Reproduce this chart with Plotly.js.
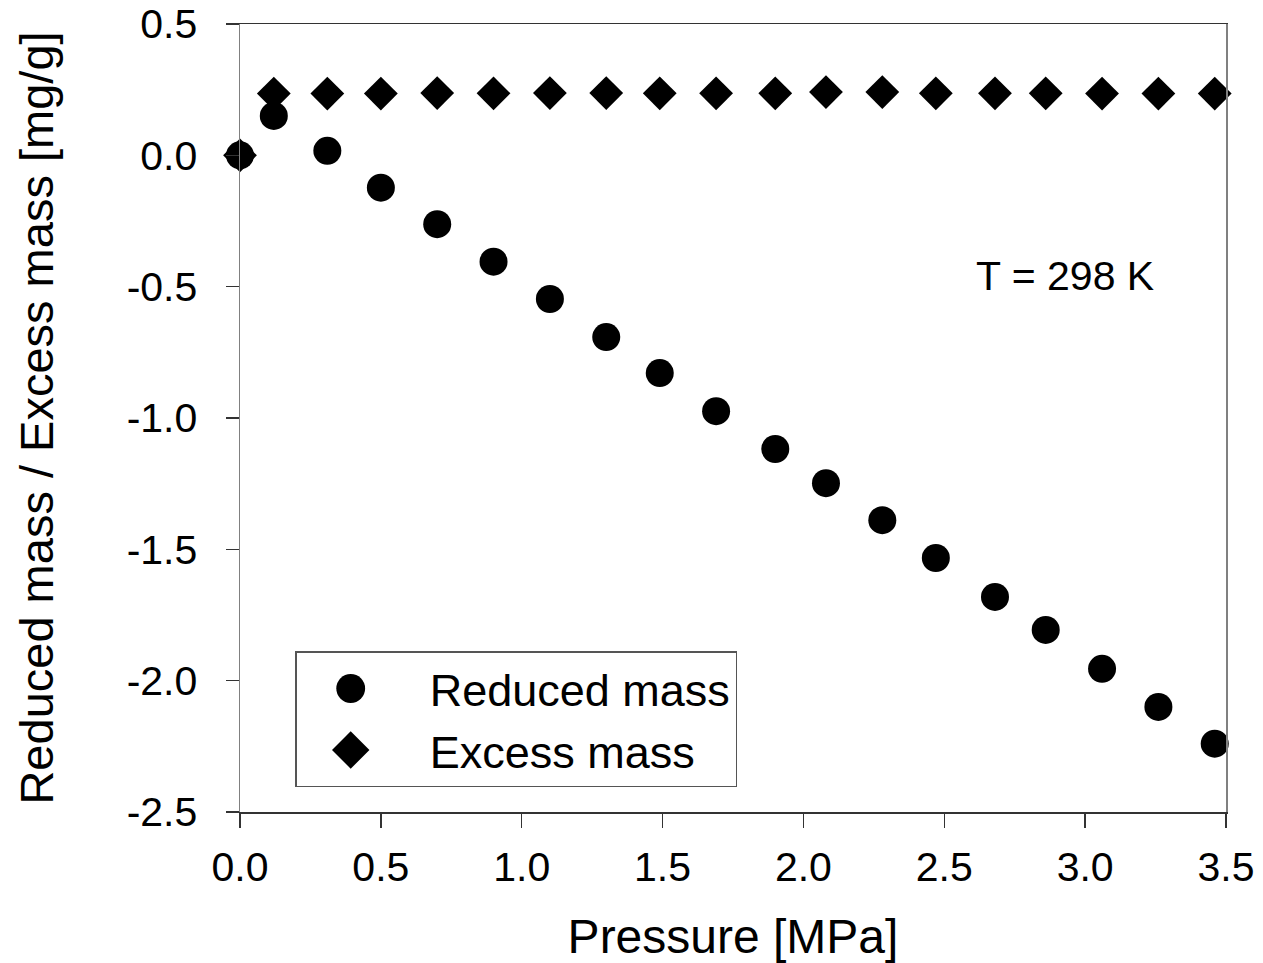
<!DOCTYPE html>
<html>
<head>
<meta charset="utf-8">
<script src="https://cdn.plot.ly/plotly-3.0.1.min.js"></script>
<style>html,body{margin:0;padding:0;background:#fff;}#chart{width:1263px;height:963px;}</style>
</head>
<body>
<div id="chart"></div>
<script>
const pressure = [0, 0.12, 0.31, 0.50, 0.70, 0.90, 1.10, 1.30, 1.49, 1.69, 1.90, 2.08, 2.28, 2.47, 2.68, 2.86, 3.06, 3.26, 3.46];
const reducedMass = [0, 0.150, 0.017, -0.123, -0.262, -0.405, -0.547, -0.692, -0.829, -0.974, -1.118, -1.248, -1.389, -1.533, -1.681, -1.807, -1.955, -2.100, -2.240];
const excessMass = [0, 0.235, 0.235, 0.235, 0.237, 0.236, 0.237, 0.237, 0.236, 0.236, 0.236, 0.241, 0.241, 0.236, 0.236, 0.236, 0.235, 0.235, 0.235];
const seriesNames = ['Reduced mass', 'Excess mass'];
const xTickVals = [0, 0.5, 1.0, 1.5, 2.0, 2.5, 3.0, 3.5];
const xTickText = ['0.0', '0.5', '1.0', '1.5', '2.0', '2.5', '3.0', '3.5'];
const yTickVals = [0.5, 0.0, -0.5, -1.0, -1.5, -2.0, -2.5];
const yTickText = ['0.5', '0.0', '-0.5', '-1.0', '-1.5', '-2.0', '-2.5'];
const annotationText = 'T = 298 K';

const FONT = 'Liberation Sans, Arial, sans-serif';
const NB = '\u00A0\u00A0';

const traces = [
  {
    x: pressure, y: reducedMass, name: NB + seriesNames[0],
    type: 'scatter', mode: 'markers', cliponaxis: false,
    marker: {symbol: 'circle', size: 28, color: '#000'}
  },
  {
    x: pressure, y: excessMass, name: NB + seriesNames[1],
    type: 'scatter', mode: 'markers', cliponaxis: false,
    marker: {symbol: 'diamond', size: 26, color: '#000'}
  }
];

const layout = {
  width: 1263, height: 963,
  margin: {l: 240, r: 37, t: 24, b: 151},
  paper_bgcolor: '#fff', plot_bgcolor: '#fff',
  font: {family: FONT, color: '#000'},
  showlegend: true,
  legend: {
    x: 0.056, y: 0.204, xanchor: 'left', yanchor: 'top',
    bgcolor: '#fff', bordercolor: '#555', borderwidth: 1.5,
    font: {family: FONT, size: 45, color: '#000'},
    itemwidth: 98, tracegroupgap: 0
  },
  xaxis: {
    range: [0, 3.5], tickvals: xTickVals, ticktext: xTickText,
    showgrid: false, zeroline: false,
    showline: true, linecolor: '#333', linewidth: 1.5, mirror: true,
    ticks: 'outside', ticklen: 14, tickcolor: '#333', tickwidth: 1.5,
    tickfont: {family: FONT, size: 41, color: '#000'},
    ticklabelstandoff: 4, ticklabeloverflow: 'allow',
    title: {text: 'Pressure [MPa]', font: {family: FONT, size: 48, color: '#000'}, standoff: 30}
  },
  yaxis: {
    range: [-2.5, 0.5], tickvals: yTickVals, ticktext: yTickText,
    showgrid: false, zeroline: false,
    showline: true, linecolor: '#808080', linewidth: 1.5, mirror: true,
    ticks: 'outside', ticklen: 13, tickcolor: '#333', tickwidth: 1.5,
    tickfont: {family: FONT, size: 41, color: '#000'},
    ticklabelstandoff: 20, ticklabeloverflow: 'allow',
    title: {text: 'Reduced mass / Excess mass [mg/g]', font: {family: FONT, size: 47, color: '#000'}, standoff: 58}
  },
  annotations: [{
    x: 2.93, y: -0.46, xref: 'x', yref: 'y', text: annotationText, showarrow: false,
    font: {family: FONT, size: 41, color: '#000'}
  }]
};

Plotly.newPlot('chart', traces, layout, {displayModeBar: false, staticPlot: true}).then(function () {
  document.querySelectorAll('.legend .legendpoints path.scatterpts').forEach(function (p) {
    const t = p.getAttribute('transform') || '';
    p.setAttribute('transform', t + ' scale(1.8)');
  });
});
</script>
</body>
</html>
